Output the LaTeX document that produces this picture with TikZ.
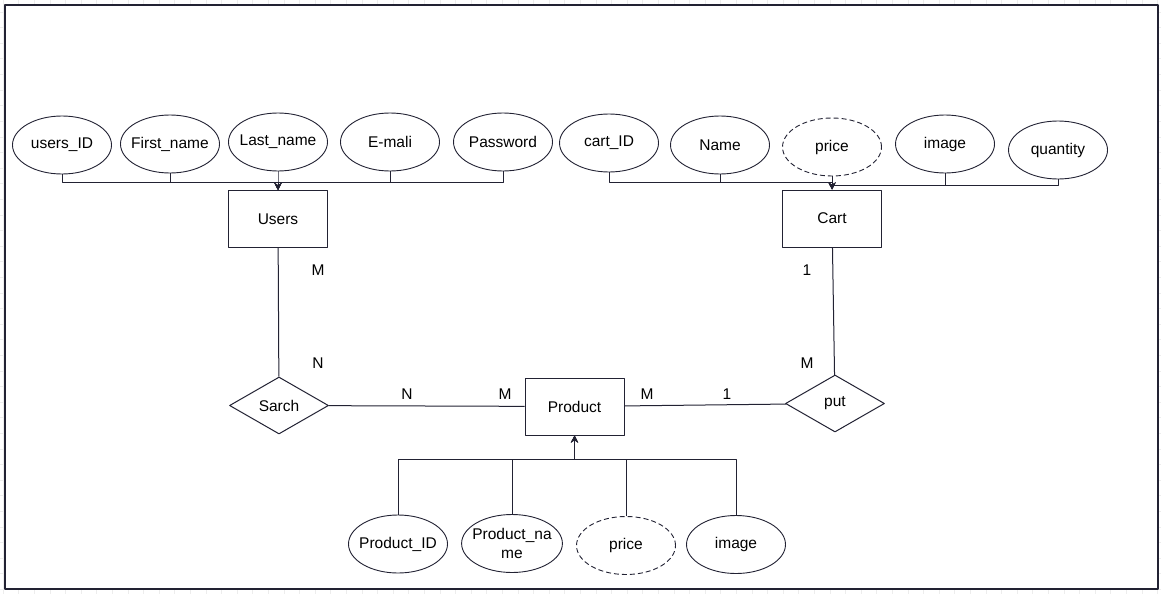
\documentclass[tikz,border=0pt]{standalone}
\usepackage{fontspec}
\setmainfont{Liberation Sans}
\usetikzlibrary{shapes.geometric,arrows.meta}
\definecolor{inkc}{RGB}{34,34,51}
\begin{document}
\begin{tikzpicture}[x=1pt,y=-1pt,>={Stealth[length=7pt,width=7pt]},line join=round,font=\fontsize{15.5}{19}\selectfont,
	attr/.style={ellipse,draw=inkc,line width=0.9pt,minimum width=99pt,minimum height=58pt,inner xsep=-4pt,inner ysep=0pt},
	weak/.style={attr,dash pattern=on 5pt off 3pt},
	entity/.style={rectangle,draw=inkc,line width=1pt,minimum width=99pt,minimum height=57pt,inner sep=0pt},
	rel/.style={diamond,draw=inkc,line width=1pt,minimum width=99pt,minimum height=57pt,inner sep=0pt},
	link/.style={draw=inkc,line width=1pt},
	card/.style={inner sep=0pt},
	gridline/.style={gray!14,line width=0.6pt}]
				\def \xmin{0}\def \xmax{1161}\def \ymin{0}\def \ymax{594}
				\useasboundingbox (\xmin,\ymin) rectangle (\xmax,\ymax);
				\foreach \gx in {3,18.6,...,1161} \draw[gridline] (\gx,\ymin)--(\gx,\ymax);
				\foreach \gy in {12,27.6,...,594} \draw[gridline] (\xmin,\gy)--(\xmax,\gy);
				\fill[white] (5,5) rectangle (1158,589);
				\draw[inkc,line width=1.5pt] (5,5) rectangle (1158,589);
				\node[attr] (uid) at (62,145) {users\_ID};
				\node[attr] (fname) at (170,144) {First\_name};
				\node[attr] (lname) at (278,142) {Last\_name};
				\node[attr] (email) at (390,142) {E-mali};
				\node[attr] (pwd) at (503,142) {Password};
				\node[attr] (cid) at (609,143) {cart\_ID};
				\node[attr] (cname) at (720,145) {Name};
				\node[weak] (cprice) at (832,147) {price};
				\node[attr] (cimg) at (945,144) {image};
				\node[attr] (qty) at (1058,150) {quantity};
				\node[entity] (users) at (278,219) {Users};
				\node[entity] (cart) at (832,218.5) {Cart};
				\node[rel] (search) at (279,405.5) {Sarch};
				\node[entity] (product) at (574.5,406.5) {Product};
				\node[rel] (put) at (835,403.5) {put};
				\node[attr] (pid) at (398,544) {Product\_ID};
				\node[attr,align=center] (pname) at (512,543.5) {Product\_na\\me};
				\node[weak] (pprice) at (626,545.5) {price};
				\node[attr] (pimg) at (736,544.5) {image};
				\coordinate (ubus) at (278,182);
				\coordinate (cbusa) at (832,182);
				\coordinate (cbusb) at (832,185);
				\coordinate (pbus) at (574.5,459);
				\foreach \a in {uid,fname,lname,email,pwd} \draw[link,->] (\a.south) |- (ubus) -- (users.north);
				\foreach \a in {cid,cname} \draw[link,->] (\a.south) |- (cbusa) -- (cart.north);
				\foreach \a in {cimg,qty} \draw[link,->] (\a.south) |- (cbusb) -- (cart.north);
				\draw[link,->] (cprice) -- (cart);
				\foreach \a in {pid,pname,pprice,pimg} \draw[link,->] (\a.north) |- (pbus) -- (product.south);
				\draw[link] (users) -- (search);
				\draw[link] (search) -- (product);
				\draw[link] (product) -- (put);
				\draw[link] (cart) -- (put);
				\node[card] (um) at (318,270) {M};
				\node[card] (sn) at (318,363) {N};
				\node[card] (spn) at (407,394) {N};
				\node[card] (psm) at (505,394) {M};
				\node[card] (ppm) at (647,394) {M};
				\node[card] (pp1) at (727,394) {1};
				\node[card] (c1) at (807,270) {1};
				\node[card] (cm) at (807,363) {M};
			\end{tikzpicture}
\end{document}
